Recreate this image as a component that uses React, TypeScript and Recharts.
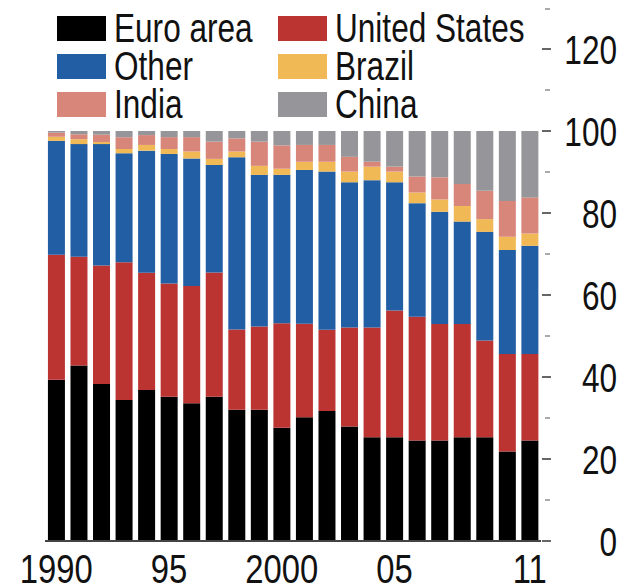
import React from 'react';
import { BarChart, Bar, XAxis, YAxis, Legend } from 'recharts';

const years = [1990, 1991, 1992, 1993, 1994, 1995, 1996, 1997, 1998, 1999, 2000, 2001, 2002, 2003, 2004, 2005, 2006, 2007, 2008, 2009, 2010, 2011];
const euroArea = [39.3, 42.8, 38.3, 34.4, 36.8, 35.2, 33.6, 35.2, 32, 32, 27.6, 30.2, 31.7, 27.9, 25.3, 25.3, 24.5, 24.5, 25.3, 25.3, 21.8, 24.5];
const unitedStates = [30.5, 26.5, 28.9, 33.6, 28.6, 27.6, 28.6, 30.3, 19.6, 20.3, 25.5, 22.8, 19.8, 24.2, 26.8, 30.9, 30.2, 28.4, 27.6, 23.6, 23.8, 21.1];
const other = [27.8, 27.5, 29.6, 26.6, 29.8, 31.6, 31.1, 26.2, 42, 37, 36.2, 37.5, 38.6, 35.4, 35.9, 31.3, 27.7, 27.4, 25, 26.5, 25.4, 26.4];
const brazil = [1.0, 1.2, 0.5, 1.0, 1.4, 1.2, 1.7, 1.5, 1.4, 2.2, 1.5, 2.0, 2.4, 2.6, 3.3, 2.6, 2.6, 3.0, 3.8, 3.1, 3.2, 3.0];
const india = [1.0, 1.2, 1.8, 2.9, 2.4, 2.9, 3.5, 4.2, 3.2, 5.9, 5.7, 4.1, 4.1, 3.6, 1.2, 1.2, 3.9, 5.4, 5.4, 6.9, 8.7, 8.8];
const china = [0.4, 0.8, 0.9, 1.5, 1.0, 1.5, 1.5, 2.6, 1.8, 2.6, 3.5, 3.4, 3.4, 6.3, 7.5, 8.7, 11.1, 11.3, 12.9, 14.6, 17.1, 16.2];

const xLabels: Record<number, string> = { 1990: '1990', 1995: '95', 2000: '2000', 2005: '05', 2011: '11' };
const yTicks = [0, 10, 20, 30, 40, 50, 60, 70, 80, 90, 100, 110, 120, 130];

const series = [
  { key: 'euro', name: 'Euro area', color: '#000000', values: euroArea },
  { key: 'us', name: 'United States', color: '#bb3432', values: unitedStates },
  { key: 'other', name: 'Other', color: '#225ea4', values: other },
  { key: 'brazil', name: 'Brazil', color: '#f0b956', values: brazil },
  { key: 'india', name: 'India', color: '#d8857a', values: india },
  { key: 'china', name: 'China', color: '#96969a', values: china },
];

const data = years.map((year, i) => {
  const row: Record<string, number> = { year };
  series.forEach((s) => { row[s.key] = s.values[i]; });
  return row;
});

// no narrow face installed, so squeeze Liberation Sans horizontally
const FONT = "'Liberation Sans', Arial, sans-serif";
const SQUEEZE = 0.77;

const XTick = (props: any) => {
  const label = xLabels[props.payload.value];
  if (!label) return null;
  return (
    <text transform={`translate(${props.x},${props.y + 36}) scale(0.8,1)`} textAnchor="middle"
      fontFamily={FONT} fontSize={41} fill="#111">
      {label}
    </text>
  );
};

const LeftTick = (props: any) => {
  const major = props.payload.value % 20 === 0;
  return (
    <line
      x1={major ? props.x - 15 : props.x - 12}
      x2={major ? props.x - 1 : props.x - 5}
      y1={props.y} y2={props.y}
      stroke={major ? '#666' : '#aaa'} strokeWidth={2}
    />
  );
};

const RightTick = (props: any) => {
  const v = props.payload.value;
  const major = v % 20 === 0;
  return (
    <g>
      <line
        x1={major ? props.x + 1 : props.x + 4}
        x2={major ? props.x + 10 : props.x + 9}
        y1={props.y} y2={props.y}
        stroke={major ? '#666' : '#aaa'} strokeWidth={2}
      />
      {major && v <= 120 ? (
        <text transform={`translate(${props.x + 76},${props.y}) scale(${SQUEEZE},1)`} dy="0.36em" textAnchor="end"
          fontFamily={FONT} fontSize={41} fill="#111">
          {v}
        </text>
      ) : null}
    </g>
  );
};

const renderLegend = () => (
  <div style={{ display: 'grid', gridTemplateColumns: '221px 260px', rowGap: 12, fontFamily: FONT }}>
    {series.map((s) => (
      <div key={s.key} style={{ display: 'flex', alignItems: 'center', height: 26 }}>
        <span style={{ width: 49, height: 25, background: s.color, marginRight: 8, flex: 'none' }} />
        <span style={{
          fontSize: 41, lineHeight: '26px', color: '#111', whiteSpace: 'nowrap',
          display: 'inline-block', transform: `scaleX(${SQUEEZE})`, transformOrigin: 'left center',
        }}>{s.name}</span>
      </div>
    ))}
  </div>
);

export default function App() {
  return (
    <div style={{ position: 'absolute', left: 0, top: 0, width: 621, height: 587, background: '#fff' }}>
      <BarChart width={621} height={587} data={data} margin={{ top: 8, right: 0, bottom: 0, left: 0 }} barCategoryGap="13%">
        <XAxis dataKey="year" height={46} interval={0} tickLine={false} tickMargin={0}
          axisLine={{ stroke: '#444', strokeWidth: 2 }} tick={<XTick />} />
        <YAxis yAxisId="left" orientation="left" width={45} domain={[0, 130]} ticks={yTicks}
          axisLine={false} tickLine={false} tickSize={0} tickMargin={0} tick={<LeftTick />} />
        <YAxis yAxisId="right" orientation="right" width={80} domain={[0, 130]} ticks={yTicks}
          axisLine={false} tickLine={false} tickSize={0} tickMargin={0} tick={<RightTick />} />
        <Legend content={renderLegend} verticalAlign="middle" layout="horizontal"
          wrapperStyle={{ position: 'absolute', top: 15, left: 57, width: 520, height: 110 }} />
        {series.map((s) => (
          <Bar key={s.key} dataKey={s.key} name={s.name} stackId="a" yAxisId="right" fill={s.color} isAnimationActive={false} />
        ))}
      </BarChart>
    </div>
  );
}
